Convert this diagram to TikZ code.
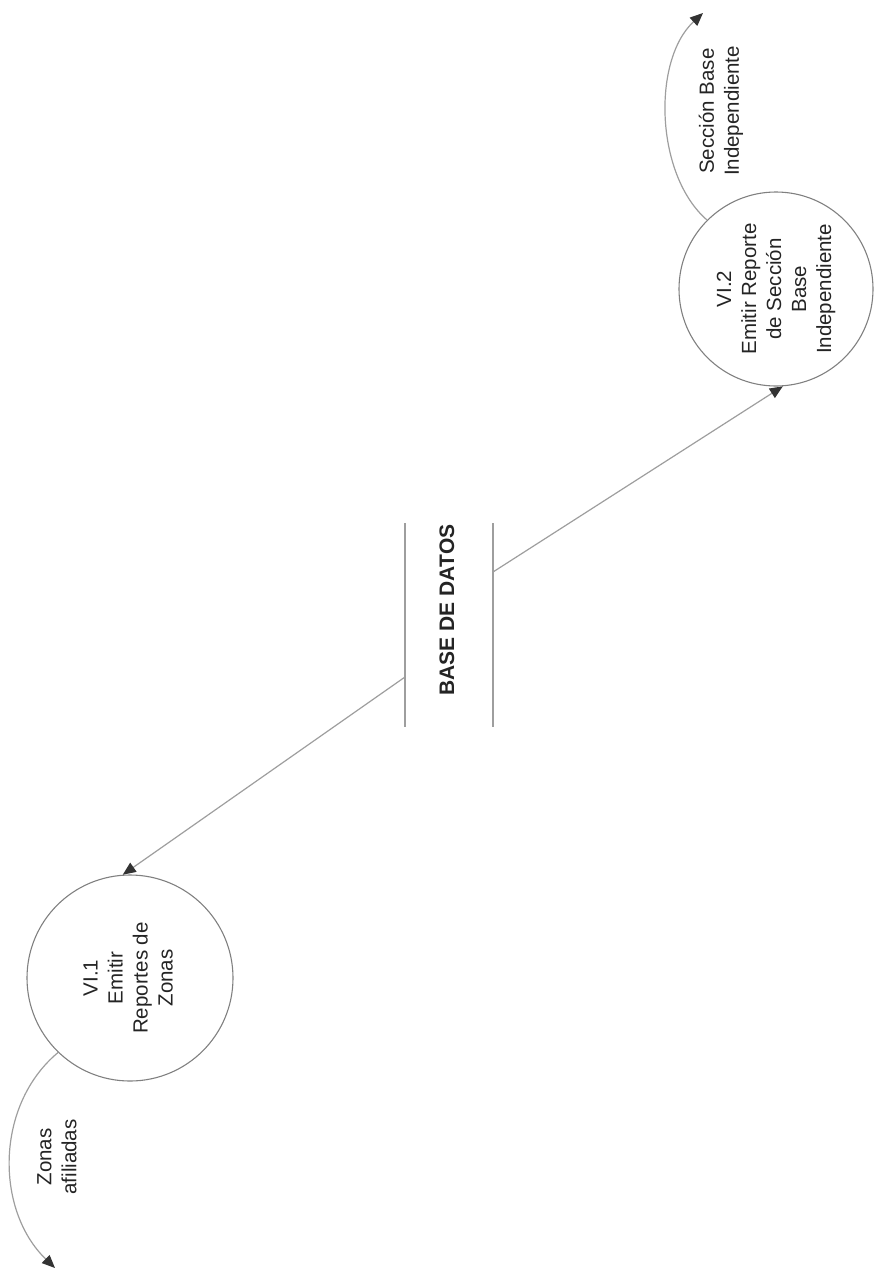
\documentclass[tikz,border=0pt]{standalone}
\usepackage{fontspec}
\setmainfont{Liberation Sans}
\usepackage{graphicx}
\usetikzlibrary{arrows.meta}
\definecolor{linegray}{gray}{0.62}
\definecolor{rimgray}{gray}{0.5}
\definecolor{tipgray}{gray}{0.2}
\definecolor{inkgray}{gray}{0.14}
\newcommand{\uptext}[1]{\rotatebox{90}{\begin{tabular}{@{}c@{}}#1\end{tabular}}}

\begin{document}
\begin{tikzpicture}[x=1pt,y=-1pt,
  flow/.style={draw=linegray, line width=1.2pt,
    -{Triangle[length=13pt,width=11pt,color=tipgray,fill=tipgray]}},
  proc/.style={circle, draw=rimgray, line width=1.1pt, inner sep=0pt,
    text=inkgray, font=\fontsize{20.5}{25}\selectfont},
  txt/.style={text=inkgray, font=\fontsize{20.5}{25}\selectfont},
  storeline/.style={draw=linegray, line width=1.2pt},
]
\useasboundingbox (0,0) rectangle (880,1275);

% processes
\node[proc, minimum size=206pt] (v1) at (130,978)
  {\uptext{VI.1\\Emitir\\Reportes de\\Zonas}};
\node[proc, minimum size=194pt] (v2) at (776,289)
  {\uptext{VI.2\\Emitir Reporte\\de Secci\'on\\Base\\Independiente}};

% data store
\draw[storeline] (405,523) -- (405,727);
\draw[storeline] (493,523) -- (493,727);
\node[txt, font=\fontsize{21}{25}\selectfont\bfseries, rotate=90] (db) at (447,610) {BASE DE DATOS};
\coordinate (dbL) at (405,677);
\coordinate (dbR) at (493,572);

% flows from the store
\draw[flow] (dbL) -- (v1.94);
\draw[flow] (dbR) -- (v2.-86);

% output flows
\coordinate (out1) at (55,1268);
\coordinate (out2) at (703,13);
\draw[flow] (v1.-134) .. controls (-5,1105) and (-5,1210) .. (out1);
\draw[flow] (v2.135) .. controls (655,175) and (652,60) .. (out2);

% flow labels
\node[txt, rotate=90, align=center] (l1) at (57,1157) {Zonas\\afiliadas};
\node[txt, rotate=90, align=center] (l2) at (721,111) {Secci\'on Base\\Independiente};
\end{tikzpicture}
\end{document}
